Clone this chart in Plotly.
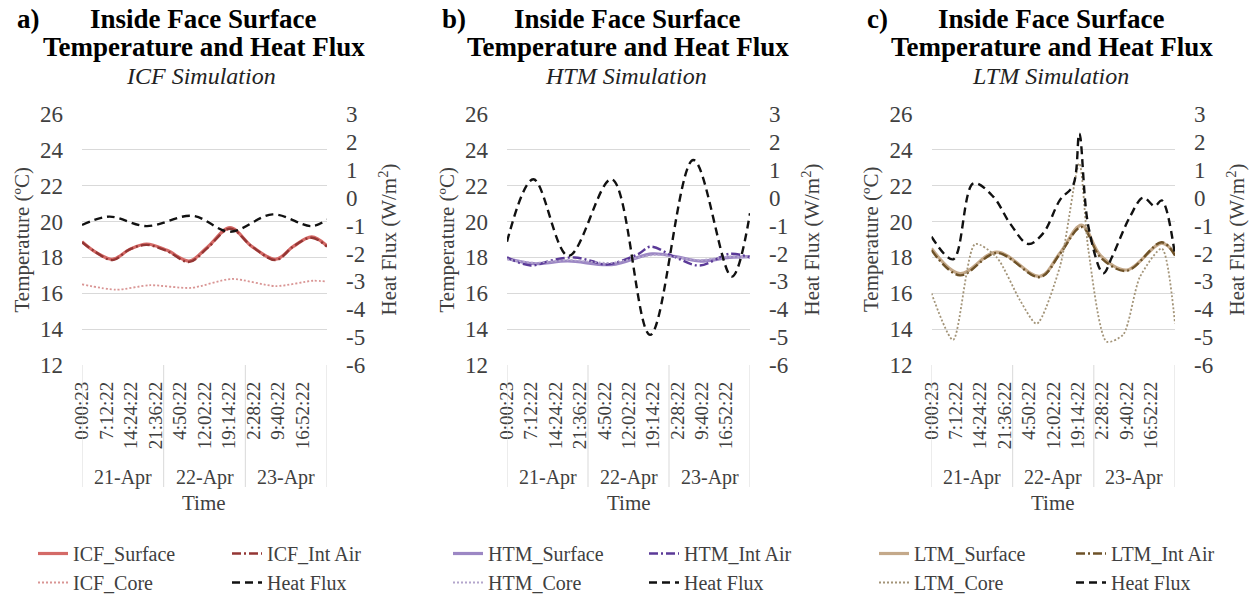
import plotly.graph_objects as go

W, H = 1259, 596

# ---------------- data ----------------
tick_labels = ["0:00:23", "7:12:22", "14:24:22", "21:36:22", "4:50:22",
               "12:02:22", "19:14:22", "2:28:22", "9:40:22", "16:52:22"]
tick_day_index = [0, 0, 0, 0, 1, 1, 1, 2, 2, 2]
day_labels = ["21-Apr", "22-Apr", "23-Apr"]

temp_ticks = [12, 14, 16, 18, 20, 22, 24, 26]
flux_ticks = [3, 2, 1, 0, -1, -2, -3, -4, -5, -6]

panel_letters = ["a)", "b)", "c)"]
panel_names = ["ICF", "HTM", "LTM"]

# hours since 21-Apr 0:00
icf_surface_h = [0, 4, 9, 14, 19, 25, 31.5, 37, 43.5, 50, 57, 62, 67.5, 72]
icf_surface = [18.88, 18.3, 17.9, 18.45, 18.75, 18.4, 17.8, 18.6, 19.66, 18.6, 17.9, 18.6, 19.15, 18.65]
icf_intair_h = [0, 4, 9, 14, 19, 25, 31.5, 37, 43.5, 50, 57, 62, 67.5, 72]
icf_intair = [18.85, 18.3, 17.85, 18.45, 18.7, 18.35, 17.75, 18.55, 19.6, 18.6, 17.85, 18.6, 19.1, 18.6]
icf_core_h = [0, 10, 20, 32, 44, 57, 68, 72]
icf_core = [16.5, 16.2, 16.45, 16.3, 16.8, 16.4, 16.7, 16.65]
icf_flux_h = [0, 8, 19, 32.5, 43.5, 56, 67.5, 72]
icf_flux = [-0.98, -0.68, -1.02, -0.65, -1.22, -0.6, -1.02, -0.78]

htm_surface_h = [0, 8, 18, 31, 43, 50, 57, 66, 72]
htm_surface = [17.95, 17.65, 17.8, 17.6, 18.2, 18.05, 17.8, 18.0, 18.05]
htm_intair_h = [0, 7, 13.5, 20, 25, 29.5, 39, 42.5, 50, 57, 66, 72]
htm_intair = [18.0, 17.55, 17.85, 18.0, 17.8, 17.6, 18.2, 18.6, 18.0, 17.55, 18.2, 18.0]
htm_core_h = [0, 8, 18, 31, 44, 57, 66, 72]
htm_core = [17.9, 17.7, 17.85, 17.7, 18.15, 17.85, 18.05, 18.0]
htm_flux_h = [0, 7.8, 18.2, 31, 42.4, 55.2, 66.6, 72]
htm_flux = [-1.58, 0.66, -2.09, 0.66, -4.92, 1.35, -2.83, -0.56]

ltm_surface_h = [0, 8.4, 19.3, 32.1, 38, 44.4, 50, 57.7, 68.1, 72]
ltm_surface = [18.5, 17.1, 18.3, 16.95, 18.25, 19.8, 18.1, 17.3, 18.8, 18.2]
ltm_intair_h = [0, 8.4, 19.3, 32.1, 38, 44.4, 50, 57.7, 68.1, 72]
ltm_intair = [18.4, 17.0, 18.25, 16.9, 18.2, 19.7, 18.0, 17.25, 18.85, 18.1]
ltm_core_h = [0, 6.4, 12.9, 19.3, 26.2, 31.1, 38, 43.7, 46.4, 51.8, 56.7, 61.6, 68.1, 72]
ltm_core = [16.0, 13.4, 18.75, 18.0, 15.6, 14.3, 17.5, 23.25, 18.4, 13.3, 13.7, 16.9, 18.5, 14.3]
ltm_flux_h = [0, 6.4, 12.4, 18.3, 23.2, 28.6, 33, 38, 41.9, 43.7, 46.4, 50.8, 53.4, 58.7, 62.6, 66, 68.1, 72]
ltm_flux = [-1.4, -2.21, 0.51, 0.03, -0.92, -1.66, -1.28, -0.08, 0.45, 2.3, -1.04, -2.71, -2.12, -0.68, 0.0, -0.3, -0.1, -2.06]

series = [
    dict(surface=(icf_surface_h, icf_surface), intair=(icf_intair_h, icf_intair),
         core=(icf_core_h, icf_core), flux=(icf_flux_h, icf_flux)),
    dict(surface=(htm_surface_h, htm_surface), intair=(htm_intair_h, htm_intair),
         core=(htm_core_h, htm_core), flux=(htm_flux_h, htm_flux)),
    dict(surface=(ltm_surface_h, ltm_surface), intair=(ltm_intair_h, ltm_intair),
         core=(ltm_core_h, ltm_core), flux=(ltm_flux_h, ltm_flux)),
]

# ---------------- styles ----------------
SERIF = "Liberation Serif"
TXT = "#404040"
GRID = "#d9d9d9"
colors = [
    dict(surface="#D46A67", intair="#943634", core="#D99594"),
    dict(surface="#9C87C4", intair="#5B3A98", core="#B3A6CC"),
    dict(surface="#C4A98A", intair="#6E5228", core="#A39478"),
]

# plot areas in pixels
px_x = [(82, 327), (507, 750), (931.5, 1175)]
px_top, px_bot = 114, 365
yd = [1 - px_bot / H, 1 - px_top / H]


def hours(label, day):
    hh, mm, ss = [int(v) for v in label.split(":")]
    return day * 24 + hh + mm / 60 + ss / 3600


tickvals = [hours(l, d) for l, d in zip(tick_labels, tick_day_index)]
ndays = len(day_labels)

fig = go.Figure()
layout = dict(template="none", width=W, height=H,
              margin=dict(l=0, r=0, t=0, b=0, pad=0, autoexpand=False),
              paper_bgcolor="white", plot_bgcolor="white",
              font=dict(family=SERIF, color=TXT), showlegend=True)
annotations = []
shapes = []

legend_col1_px = [33, 448, 874]
legend_col2_px = [227, 644, 1071]

for i in range(3):
    xa = "xaxis" if i == 0 else f"xaxis{i+1}"
    xr = "x" if i == 0 else f"x{i+1}"
    y1n, y2n = 2 * i + 1, 2 * i + 2
    ya1 = "yaxis" if y1n == 1 else f"yaxis{y1n}"
    yr1 = "y" if y1n == 1 else f"y{y1n}"
    ya2, yr2 = f"yaxis{y2n}", f"y{y2n}"
    x0, x1 = px_x[i]
    layout[xa] = dict(domain=[x0 / W, x1 / W], range=[0, ndays * 24], anchor=yr1,
                      tickvals=tickvals, ticktext=tick_labels, tickangle=-90,
                      tickfont=dict(size=19, color=TXT, family=SERIF),
                      showgrid=False, zeroline=False, showline=False, ticks="",
                      ticklabelstandoff=12, automargin=False, fixedrange=True)
    layout[ya1] = dict(domain=yd, range=[temp_ticks[0], temp_ticks[-1]], anchor=xr,
                       tickvals=temp_ticks, ticktext=[str(v) for v in temp_ticks],
                       tickfont=dict(size=23, color=TXT, family=SERIF),
                       showgrid=True, gridcolor=GRID, gridwidth=1, zeroline=False,
                       showline=False, ticks="", ticklabelstandoff=18, automargin=False)
    layout[ya2] = dict(domain=yd, range=[min(flux_ticks), max(flux_ticks)], anchor=xr,
                       overlaying=yr1, side="right",
                       tickvals=flux_ticks, ticktext=[str(v) for v in flux_ticks],
                       tickfont=dict(size=23, color=TXT, family=SERIF),
                       showgrid=False, zeroline=False, showline=False, ticks="",
                       ticklabelstandoff=18, automargin=False)

    s = series[i]
    c = colors[i]
    name = panel_names[i]
    lg1 = "legend" if i == 0 else f"legend{2*i+1}"
    lg2 = f"legend{2*i+2}"
    fig.add_trace(go.Scatter(x=s["surface"][0], y=s["surface"][1], mode="lines",
                             name=f"{name}_Surface", xaxis=xr, yaxis=yr1, legend=lg1,
                             line=dict(color=c["surface"], width=3.2, shape="spline", smoothing=1)))
    fig.add_trace(go.Scatter(x=s["intair"][0], y=s["intair"][1], mode="lines",
                             name=f"{name}_Int Air", xaxis=xr, yaxis=yr1, legend=lg2,
                             line=dict(color=c["intair"], width=2.4, dash="9px,3px,2px,3px",
                                       shape="spline", smoothing=1)))
    fig.add_trace(go.Scatter(x=s["core"][0], y=s["core"][1], mode="lines",
                             name=f"{name}_Core", xaxis=xr, yaxis=yr1, legend=lg1,
                             line=dict(color=c["core"], width=1.8, dash="2px,2px",
                                       shape="spline", smoothing=0.7)))
    fig.add_trace(go.Scatter(x=s["flux"][0], y=s["flux"][1], mode="lines",
                             name="Heat Flux", xaxis=xr, yaxis=yr2, legend=lg2,
                             line=dict(color="#111111", width=2.4, dash="8px,5px",
                                       shape="spline", smoothing=1)))

    leg_common = dict(orientation="v", xanchor="left", yanchor="top", y=1 - 534 / H,
                      bgcolor="rgba(0,0,0,0)", borderwidth=0, itemwidth=30,
                      font=dict(family=SERIF, size=20, color=TXT), tracegroupgap=0)
    layout[lg1] = dict(leg_common, x=legend_col1_px[i] / W)
    layout[lg2] = dict(leg_common, x=legend_col2_px[i] / W)

    # category group separators and day labels
    for d in range(ndays + 1):
        shapes.append(dict(type="line", xref=xr, yref="paper", x0=d * 24, x1=d * 24,
                           y0=1 - px_bot / H, y1=1 - 487 / H,
                           line=dict(color=GRID, width=1)))
    for d, lab in enumerate(day_labels):
        annotations.append(dict(x=d * 24 + 12, xref=xr, y=1 - 477 / H, yref="paper",
                                text=lab, showarrow=False, xanchor="center", yanchor="middle",
                                font=dict(size=20, color=TXT, family=SERIF)))
    xc = (x0 + x1) / 2
    annotations.append(dict(x=xc / W, y=1 - 503 / H, xref="paper", yref="paper", text="Time",
                            showarrow=False, xanchor="center", yanchor="middle",
                            font=dict(size=21, color=TXT, family=SERIF)))
    # axis titles
    annotations.append(dict(x=(x0 - 60) / W, y=1 - ((px_top + px_bot) / 2) / H,
                            xref="paper", yref="paper", text="Temperature (ºC)",
                            textangle=-90, showarrow=False, xanchor="center", yanchor="middle",
                            font=dict(size=21, color=TXT, family=SERIF)))
    annotations.append(dict(x=(x1 + 61) / W, y=1 - ((px_top + px_bot) / 2) / H,
                            xref="paper", yref="paper", text="Heat Flux (W/m<sup>2</sup>)",
                            textangle=-90, showarrow=False, xanchor="center", yanchor="middle",
                            font=dict(size=21, color=TXT, family=SERIF)))
    # panel titles
    annotations.append(dict(x=(x0 - 67) / W, y=1 - 19 / H, xref="paper", yref="paper",
                            text=f"<b>{panel_letters[i]}</b>", showarrow=False,
                            xanchor="left", yanchor="middle",
                            font=dict(size=27, color="black", family=SERIF)))
    annotations.append(dict(x=(xc - 2) / W, y=1 - 19 / H, xref="paper", yref="paper",
                            text="<b>Inside Face Surface</b>", showarrow=False,
                            xanchor="center", yanchor="middle",
                            font=dict(size=27, color="black", family=SERIF)))
    annotations.append(dict(x=(xc - 1) / W, y=1 - 47 / H, xref="paper", yref="paper",
                            text="<b>Temperature and Heat Flux</b>", showarrow=False,
                            xanchor="center", yanchor="middle",
                            font=dict(size=27, color="black", family=SERIF)))
    annotations.append(dict(x=(xc - 3) / W, y=1 - 76 / H, xref="paper", yref="paper",
                            text=f"<i>{name} Simulation</i>", showarrow=False,
                            xanchor="center", yanchor="middle",
                            font=dict(size=24, color="#222222", family=SERIF)))

layout["annotations"] = annotations
layout["shapes"] = shapes
fig.update_layout(**layout)
fig.write_html("out.html")
